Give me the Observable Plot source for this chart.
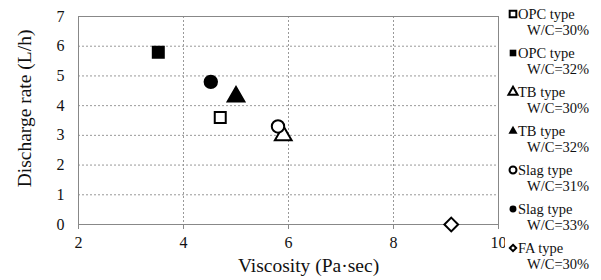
<!DOCTYPE html>
<html><head><meta charset="utf-8">
<script src="https://cdn.jsdelivr.net/npm/d3@7"></script>
<script src="https://cdn.jsdelivr.net/npm/@observablehq/plot@0.6"></script>
<style>
body{margin:0;background:#fff;}
#wrap{position:relative;width:601px;height:280px;}
#chart{position:absolute;left:0;top:0;}
#legend{position:absolute;left:505px;top:0;}
</style></head><body>
<div id="wrap"><div id="chart"></div><div id="legend"></div></div>
<script>
const series = ["OPC type\nW/C=30%","OPC type\nW/C=32%","TB type\nW/C=30%","TB type\nW/C=32%","Slag type\nW/C=31%","Slag type\nW/C=33%","FA type\nW/C=30%"];
const viscosity = [4.70, 3.52, 5.90, 5.00, 5.80, 4.52, 9.10];
const discharge = [3.6, 5.8, 3.0, 4.3, 3.3, 4.8, 0.0];
const symbols = ["square","square","triangle","triangle","circle","circle","diamond2"];
const filled = [false,true,false,true,false,true,false];
const xTicks = [2,4,6,8,10];
const yTicks = [0,1,2,3,4,5,6,7];

const FONT = "'Liberation Serif', serif";
const data = series.map((s,i)=>({s, x:viscosity[i], y:discharge[i], sym:symbols[i], f:filled[i]}));
const symMap = {square:d3.symbolSquare, triangle:d3.symbolTriangle, circle:d3.symbolCircle, diamond2:d3.symbolDiamond2};

const chart = Plot.plot({
  width: 505, height: 280,
  marginLeft: 78, marginRight: 7, marginTop: 16, marginBottom: 56,
  style: {fontFamily: FONT, fontSize: "15px", color: "#111", background:"#fff"},
  x: {domain:[2,10], ticks: xTicks},
  y: {domain:[0,7], ticks: yTicks},
  marks: [
    Plot.gridX(xTicks.filter(d=>d>2 && d<10), {stroke:"#999", strokeOpacity:1, strokeDasharray:"2,2"}),
    Plot.gridY(yTicks.filter(d=>d>0 && d<7), {stroke:"#999", strokeOpacity:1, strokeDasharray:"2,2"}),
    Plot.frame({stroke:"#888"}),
    Plot.axisX({ticks: xTicks, tickFormat: d3.format("d"), tickSize: 5, tickPadding: 7, fontSize: 16, stroke:"#888", label: "Viscosity (Pa·sec)", labelAnchor:"center", labelOffset: 47, labelArrow:"none"}),
    Plot.axisY({ticks: yTicks, tickFormat: d3.format("d"), tickSize: 0, tickPadding: 14, fontSize: 16, label: "Discharge rate (L/h)", labelAnchor:"center", labelOffset: 61, labelArrow:"none"}),
    Plot.dot(data, {x:"x", y:"y", symbol:"sym", r: 6.2,
      fill: d => d.f ? "#000" : "#fff", stroke:"#000", strokeWidth: 2})
  ]
});
chart.querySelectorAll('[aria-label="x-axis label"] text, [aria-label="y-axis label"] text').forEach(t=>{t.setAttribute("font-size","19.5px");});
chart.querySelectorAll('[aria-label="x-axis label"] text').forEach(t=>t.setAttribute("dx","20"));
chart.querySelectorAll('[aria-label="y-axis label"] text').forEach(t=>t.setAttribute("dx","12"));
document.getElementById("chart").appendChild(chart);

// legend as SVG
const lg = d3.create("svg").attr("width",96).attr("height",280)
  .style("font-family", FONT).style("font-size","14.5px");
data.forEach((d,i)=>{
  const g = lg.append("g").attr("transform",`translate(0,${14 + i*39})`);
  g.append("path").attr("transform","translate(8,0)")
    .attr("d", d3.symbol(symMap[d.sym], d.sym==="triangle"?36:d.sym==="circle"?38:d.sym==="diamond2"?26:44)())
    .attr("fill", d.f?"#000":"#fff").attr("stroke","#000").attr("stroke-width", d.f?0:2);
  const [l1,l2] = d.s.split("\n");
  g.append("text").attr("x",13).attr("y",5).attr("fill","#111").text(l1);
  g.append("text").attr("x",22).attr("y",21).attr("fill","#111").text(l2);
});
document.getElementById("legend").appendChild(lg.node());
</script></body></html>
